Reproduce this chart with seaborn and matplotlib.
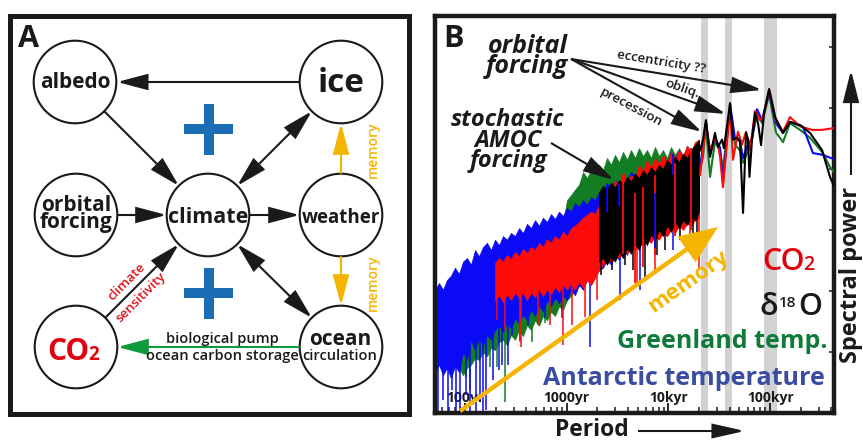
import numpy as np
import pandas as pd
import matplotlib
matplotlib.use("Agg")
import matplotlib.pyplot as plt
import seaborn as sns
from matplotlib.patches import Circle, Rectangle, FancyArrowPatch

# ---------------- Panel B data ----------------
# period in years, spectral power in log10 units (arbitrary offset)
# periods at which the edges of the dense stochastic bands were read
noise_period = [50.7, 55.5, 60.8, 66.5, 72.8, 79.7, 87.3, 95.6, 104.6, 114.6,
                125.4, 137.3, 150.3, 164.6, 180.2, 197.3, 216.0, 236.4, 258.9, 283.4,
                310.3, 339.7, 371.9, 407.1, 445.7, 488.0, 534.2, 584.9, 640.3, 701.0,
                767.5, 840.2, 919.9, 1007, 1103, 1207, 1321, 1447, 1584, 1734,
                1898, 2078, 2275, 2491, 2727, 2985, 3268, 3578, 3917, 4288,
                4695, 5140, 5627, 6160, 6744, 7384, 8083, 8850, 9688, 10610,
                11610, 12710, 13920, 15240, 16680, 18260, 19990]

blue_noise_top = [2.02, 2.13, 2.02, 2.18, 2.25, 2.38, 2.28, 2.48, 2.54, 2.43,
                  2.67, 2.57, 2.72, 2.79, 2.67, 2.84, 2.75, 2.90, 2.84, 2.95,
                  2.90, 3.03, 2.95, 3.10, 3.03, 3.16, 3.07, 3.20, 3.13, 3.26,
                  3.18, 3.30, 3.23, 3.36, 3.30, 3.44, 3.38, 3.49, 3.41, 3.54,
                  3.49, 3.62, 3.66, 3.77, 3.69, 3.82, 3.75, 3.89, 3.82, 3.95,
                  3.89, 3.98, 3.93, 4.07, 3.98, 4.10, 4.03, 4.18, 4.11, 4.28,
                  4.15, 4.31, 4.21, 4.34, 4.26, 4.39, 4.43]
blue_noise_bot = [0.67, 0.79, 0.62, 0.74, 0.57, 0.77, 0.67, 1.00, 0.87, 1.20,
                  1.03, 1.23, 1.11, 1.28, 1.20, 1.36, 1.44, 1.33, 1.49, 1.39,
                  1.56, 1.46, 1.61, 1.52, 1.69, 1.59, 1.77, 1.66, 1.85, 1.75,
                  1.89, 1.80, 1.92, 1.85, 2.02, 1.93, 2.10, 2.02, 2.18, 2.10,
                  2.26, 2.34, 2.38, 2.51, 2.43, 2.59, 2.51, 2.67, 2.59, 2.75,
                  2.67, 2.84, 2.75, 2.87, 2.80, 2.92, 2.87, 2.97, 2.90, 3.03,
                  2.97, 3.08, 3.02, 3.13, 3.07, 3.20, 3.25]
green_noise_top = [1.77, 1.82, 1.85, 1.90, 1.95, 2.02, 2.07, 2.13, 2.18, 2.23,
                   2.28, 2.33, 2.38, 2.43, 2.48, 2.52, 2.57, 2.62, 2.67, 2.70,
                   2.74, 2.77, 2.80, 2.84, 2.87, 2.90, 2.93, 2.97, 3.00, 3.03,
                   3.07, 3.10, 3.13, 3.49, 3.57, 3.66, 3.74, 3.95, 3.85, 3.98,
                   3.90, 4.07, 3.98, 4.18, 4.07, 4.23, 4.11, 4.28, 4.15, 4.31,
                   4.18, 4.34, 4.21, 4.31, 4.18, 4.36, 4.21, 4.31, 4.18, 4.36,
                   4.23, 4.34, 4.21, 4.38, 4.28, 4.34, 4.39]
green_noise_bot = [0.74, 0.84, 0.70, 0.80, 0.67, 0.84, 0.74, 0.62, 0.74, 0.79,
                   0.90, 0.87, 1.00, 0.93, 1.07, 1.03, 1.16, 1.20, 1.11, 1.28,
                   1.20, 1.36, 1.26, 1.44, 1.36, 1.52, 1.43, 1.59, 1.52, 1.66,
                   1.59, 1.75, 1.69, 1.85, 1.92, 2.02, 2.08, 2.15, 2.25, 2.34,
                   2.43, 2.48, 2.54, 2.59, 2.64, 2.67, 2.72, 2.75, 2.80, 2.84,
                   2.87, 2.90, 2.95, 2.97, 3.00, 3.03, 3.07, 3.08, 3.11, 3.13,
                   3.16, 3.20, 3.21, 3.25, 3.28, 3.30, 3.33]
red_noise_top = [2.46, 2.54, 2.48, 2.59, 2.52, 2.64, 2.57, 2.69, 2.62, 2.72,
                 2.67, 2.79, 2.72, 2.85, 2.79, 2.90, 2.84, 2.97, 2.90, 3.03,
                 3.07, 3.13, 3.20, 3.25, 3.30, 3.26, 3.41, 3.52, 3.66, 3.57,
                 3.82, 3.69, 3.95, 3.79, 3.90, 3.85, 4.07, 3.95, 4.15, 4.02,
                 4.18, 4.07, 4.23, 4.11, 4.28, 4.15, 4.31, 4.21, 4.38, 4.28,
                 4.44, 4.48]
red_noise_bot = [1.85, 1.93, 1.82, 1.95, 1.85, 1.98, 1.89, 1.97, 1.85, 1.98,
                 1.90, 2.02, 1.92, 2.02, 1.95, 2.07, 1.98, 2.10, 2.02, 2.13,
                 2.02, 2.15, 2.05, 2.18, 2.10, 2.21, 2.34, 2.43, 2.51, 2.48,
                 2.59, 2.54, 2.67, 2.61, 2.74, 2.67, 2.79, 2.74, 2.84, 2.79,
                 2.90, 2.84, 2.95, 2.90, 3.00, 2.95, 3.07, 3.00, 3.10, 3.07,
                 3.16, 3.20]
black_noise_top = [3.62, 3.72, 3.66, 3.77, 3.70, 3.82, 3.75, 3.87, 3.80, 3.92,
                   3.85, 3.98, 3.90, 4.03, 3.95, 4.07, 4.00, 4.15, 4.07, 4.20,
                   4.11, 4.25, 4.18, 4.31, 4.39, 4.48]
black_noise_bot = [2.48, 2.54, 2.43, 2.57, 2.48, 2.64, 2.54, 2.70, 2.61, 2.77,
                   2.67, 2.87, 2.75, 2.93, 2.84, 3.00, 2.90, 3.07, 2.97, 3.13,
                   3.03, 3.16, 3.08, 3.23, 3.16, 3.30]
red_start, black_start = 15, 41   # first index of noise_period covered by CO2 and d18O

# single deep dips (period, lowest power)
blue_spike_period = [54.3, 60.8, 68.0, 74.5, 81.6, 89.3, 102, 112, 128, 140, 150, 161, 188, 216,
                     231, 265, 290, 416, 612, 899, 1694, 3342, 5260, 7384, 11090]
blue_spike_low = [-0.2, 0.21, -0.2, 0.38, -0.2, -0.2, 0.30, -0.2, -0.2, 0.21, -0.2, 0.05, 0.54, 0.70,
                  0.79, 0.79, 1.28, 1.44, 1.56, 1.56, 1.08, 1.85, 2.02, 2.59, 2.67]
green_spike_period = [102, 112, 176, 207, 247, 296, 348, 456, 612, 2123, 11090]
green_spike_low = [0.59, 0.38, 0.75, 0.75, 0.18, 1.25, 1.20, 1.16, 1.48, 2.48, 3.08]
red_spike_period = [207, 247, 348, 356, 522, 685, 921, 1127, 1514, 1986, 4909, 7384, 16290, 19990]
red_spike_low = [1.52, 1.36, 1.16, 1.08, 1.44, 1.44, 1.11, 1.44, 1.57, 1.85, 2.13, 2.34, 2.67, 2.34]
black_spike_period = [2174, 2786, 3741, 4487, 5897, 7720, 9268, 13000, 17460, 19100]
black_spike_low = [2.26, 2.34, 2.43, 2.34, 2.23, 2.59, 2.67, 2.84, 2.54, 2.62]
# streaks of one record seen on top of the d18O band (period, low, high)
red_over_period = [3578, 4695, 5627, 7384, 11610, 16680]
red_over_low = [2.60, 2.13, 2.40, 2.60, 2.90, 3.00]
red_over_high = [3.90, 3.60, 3.70, 3.90, 4.10, 4.35]
blue_over_period = [2491, 3268, 7384, 11090]
blue_over_low = [3.30, 3.40, 2.70, 3.90]
blue_over_high = [3.70, 3.75, 3.60, 4.25]

# orbital band: resolved spectral estimates drawn as lines
black_period = [20460, 21900, 23400, 25700, 28700, 30700, 33700, 35200, 40400, 43200, 47300, 50600,
                54200, 58000, 60700, 62700, 66400, 71100, 76100, 81500, 87300, 97800, 112000,
                134000, 157000, 197000, 247000, 324000, 388000, 425000]
black_power = [4.30, 4.48, 4.80, 4.20, 4.59, 4.36, 4.48, 4.34, 5.08, 4.48, 4.51, 4.46,
               3.28, 4.59, 4.48, 3.87, 4.48, 4.92, 4.75, 4.39, 4.92, 5.31, 4.85,
               4.59, 4.77, 4.72, 4.59, 4.31, 3.87, 3.72]
red_period = [20460, 21900, 23400, 25700, 28700, 30700, 32200, 34400, 40400, 43200, 48300, 53000,
              58000, 63500, 71100, 79600, 85300, 97800, 114000, 134000, 157000, 197000, 258000,
              324000, 425000]
red_power = [3.90, 4.30, 4.75, 4.30, 4.50, 4.40, 4.20, 3.70, 5.00, 4.15, 4.61, 4.40,
             4.61, 4.31, 4.95, 4.80, 4.85, 5.30, 4.80, 4.61, 4.85, 4.70, 4.64, 4.64, 4.67]
blue_period = [20460, 21900, 23400, 25700, 28700, 32200, 34400, 40400, 45200, 50600, 54200, 60700,
               66400, 74300, 83400, 97800, 114000, 134000, 157000, 210000, 264000, 331000, 425000]
blue_power = [4.00, 4.40, 4.78, 4.25, 4.50, 4.35, 3.77, 5.06, 4.50, 4.45, 4.18, 4.40,
              4.50, 4.98, 4.80, 5.26, 4.75, 4.59, 4.77, 4.69, 4.26, 4.23, 4.16]
green_period = [20460, 21900, 23400, 25700, 28700, 32200, 34400, 40400, 45200, 50600, 54200, 60700,
                66400, 74300, 83400, 97800, 114000, 134000, 157000, 197000, 247000, 331000, 388000, 425000]
green_power = [4.00, 4.20, 4.70, 3.87, 4.45, 4.30, 4.00, 4.98, 4.40, 4.30, 4.10, 4.30,
               4.50, 4.90, 4.75, 5.22, 4.60, 4.44, 4.75, 4.64, 4.51, 4.26, 4.03, 3.95]

orbital_bands = [(20900, 24300), (36200, 42400), (87000, 117000)]
xtick_values = [100, 1000, 10000, 100000]
xtick_labels = ["100yr", "1000yr", "10kyr", "100kyr"]
series_names = ["Greenland temp.", "Antarctic temperature", "CO2", "d18O"]

# ---------------- style ----------------
sns.set_theme(style="white")
plt.rcParams["font.family"] = ["Open Sans", "DejaVu Sans"]
INK = "#1a1a1a"
C_BLUE, C_GREEN, C_RED, C_BLACK = "#0a0af5", "#127d22", "#ff0a0a", "#000000"
C_ORANGE = "#f5b400"
palette = {"Greenland temp.": C_GREEN, "Antarctic temperature": C_BLUE, "CO2": C_RED, "d18O": C_BLACK}

W, H = 863, 441
fig = plt.figure(figsize=(W / 100, H / 100), dpi=100)

# ---------------- Panel B axes ----------------
bl, br, bt, bb = 435, 834, 15.8, 413
ax = fig.add_axes([bl / W, (H - bb) / H, (br - bl) / W, (bb - bt) / H], zorder=2)
ax.set_xscale("log")
ax.set_xlim(50.7, 425000)
ax.set_ylim(0, 6.51)

for lo, hi in orbital_bands:
    ax.axvspan(lo, hi, color="#d2d2d2", lw=0, zorder=0)

def noisy(period, top, bot, color, z):
    ax.fill_between(period, bot, top, color=color, lw=0.5, zorder=z)

def spikes(period, low, ref_p, ref_bot, color, z):
    high = np.interp(np.log10(period), np.log10(ref_p), ref_bot) + 0.25
    ax.vlines(period, low, high, color=color, lw=1.1, zorder=z)

red_p = noise_period[red_start:]
black_p = noise_period[black_start:]
noisy(noise_period, green_noise_top, green_noise_bot, C_GREEN, 1)
spikes(green_spike_period, green_spike_low, noise_period, green_noise_bot, C_GREEN, 1)
noisy(noise_period, blue_noise_top, blue_noise_bot, C_BLUE, 2)
spikes(blue_spike_period, blue_spike_low, noise_period, blue_noise_bot, C_BLUE, 2)
noisy(red_p, red_noise_top, red_noise_bot, C_RED, 3)
spikes(red_spike_period, red_spike_low, red_p, red_noise_bot, C_RED, 3)
noisy(black_p, black_noise_top, black_noise_bot, C_BLACK, 4)
spikes(black_spike_period, black_spike_low, black_p, black_noise_bot, C_BLACK, 4)
ax.vlines(red_over_period, red_over_low, red_over_high, color=C_RED, lw=1.3, zorder=5)
ax.vlines(blue_over_period, blue_over_low, blue_over_high, color=C_BLUE, lw=1.3, zorder=5)

frames = []
for name, p, v in [("Greenland temp.", green_period, green_power),
                   ("Antarctic temperature", blue_period, blue_power),
                   ("CO2", red_period, red_power),
                   ("d18O", black_period, black_power)]:
    frames.append(pd.DataFrame({"period": p, "power": v, "series": name}))
df = pd.concat(frames, ignore_index=True)
sns.lineplot(data=df, x="period", y="power", hue="series", hue_order=series_names,
             palette=palette, estimator=None, sort=True, lw=1.5, legend=False, ax=ax, zorder=6)

ax.set_xlabel("")
ax.set_ylabel("")
ax.set_xticks(xtick_values)
ax.set_xticklabels(xtick_labels, fontweight="bold", fontsize=10, color=INK)
ax.tick_params(axis="x", which="major", direction="in", bottom=True, top=False, length=7,
               width=1.3, color=INK, pad=-16)
ax.tick_params(axis="x", which="minor", direction="in", bottom=True, top=False, length=4.5,
               width=1.1, color=INK)
for lab in ax.get_xticklabels():
    lab.set_zorder(7)
ax.set_yticks([1, 2, 3, 4, 5, 6])
ax.tick_params(axis="y", which="both", left=False, right=True, direction="in", length=3.5,
               width=1.1, color=INK, labelleft=False, labelright=False)
for s in ax.spines.values():
    s.set_linewidth(3.2)
    s.set_color(INK)
    s.set_visible(True)

# ---------------- overlay (pixel coordinates) ----------------
ov = fig.add_axes([0, 0, 1, 1], zorder=3)
ov.set_xlim(0, W)
ov.set_ylim(H, 0)
ov.axis("off")
ov.patch.set_alpha(0)

def T(x, y, s, size, color=INK, weight="bold", ha="center", va="baseline", rot=0, style="normal", ls=1.0):
    ov.text(x, y, s, fontsize=size, color=color, fontweight=weight, ha=ha, va=va,
            rotation=rot, fontstyle=style, linespacing=ls, multialignment=ha if ha != "center" else "center")

def A(p0, p1, color=INK, lw=1.5, style="-|>", hl=19, hw=5):
    ov.add_patch(FancyArrowPatch(p0, p1, arrowstyle=f"{style},head_length={hl},head_width={hw}",
                                 mutation_scale=1, lw=lw, color=color, shrinkA=0, shrinkB=0,
                                 joinstyle="miter", capstyle="butt"))

# Panel A frame
ov.add_patch(Rectangle((10, 15.8), 399, 397.9, fill=False, lw=3.6, ec=INK))
T(18, 47, "A", 22, ha="left")

nodes = {"albedo": (75, 82), "ice": (341, 82), "orbital": (76, 215), "climate": (208, 215),
         "weather": (341, 215), "co2": (76, 347), "ocean": (341, 347)}
R = 41.3
for c in nodes.values():
    ov.add_patch(Circle(c, R, fill=False, lw=1.5, ec=INK))

T(75, 88, "albedo", 15)
T(341, 92, "ice", 24)
T(76, 228, "orbital\nforcing", 15, ls=0.78)
T(208, 223, "climate", 15.5)
T(341, 223, "weather", 13.5)
T(47, 360, "CO", 21.5, color="#e0000f", ha="left")
T(88, 360, "2", 13.5, color="#e0000f", ha="left")
T(340, 345, "ocean", 15)
T(340, 360, "circulation", 10.5, weight="semibold")
T(222, 343, "biological pump", 10.5, weight="semibold")
T(222, 360, "ocean carbon storage", 10.5, weight="semibold")
T(127, 282, "climate", 9.5, color="#e0101a", weight="semibold", va="center", rot=45)
T(141, 297, "sensitivity", 9.5, color="#e0101a", weight="semibold", va="center", rot=45)
T(373, 150, "memory", 10, color=C_ORANGE, weight="semibold", va="center", rot=90)
T(373, 283, "memory", 10, color=C_ORANGE, weight="semibold", va="center", rot=90)

A((300, 82), (117, 82))
A((104, 111), (179, 186))
A((117.3, 215), (166.7, 215))
A((249.3, 215), (299.7, 215))
A((237, 186), (312, 111), style="<|-|>")
A((237, 244), (312, 318), style="<|-|>")
A((105, 318), (179, 244))
A((299.7, 347), (117.3, 347), color="#109a3e")
A((341, 173.7), (341, 123.3), color=C_ORANGE)
A((341, 256.3), (341, 305.7), color=C_ORANGE)

PLUS = "#1c6eb4"
for cy in (129, 293):
    ov.plot([184, 233], [cy, cy], lw=7.2, color=PLUS, solid_capstyle="butt")
    ov.plot([209, 209], [cy - 25.5, cy + 25.5], lw=7.2, color=PLUS, solid_capstyle="butt")

# Panel B annotations
T(443, 47, "B", 22, ha="left")
T(568, 73, "orbital\nforcing", 18, ha="right", style="italic", ls=0.72)
T(508, 167, "stochastic\nAMOC\nforcing", 17, style="italic", ls=0.8)
A((571, 59), (762, 90))
A((571, 59), (726, 114))
A((571, 59), (702, 132))
A((551, 143), (614, 180))
T(661, 62, "eccentricity ??", 9.5, weight="semibold", va="center", rot=-9.5)
T(682, 89, "obliq.", 9.5, weight="semibold", va="center", rot=-19)
T(631, 107, "precession", 9.5, weight="semibold", va="center", rot=-28)

A((460, 411), (718, 227), color=C_ORANGE, lw=3.2, hl=22, hw=9)
T(688, 282, "memory", 16, color=C_ORANGE, va="center", rot=35)

T(762, 270, "CO", 22, color="#e0000f", ha="left", weight="semibold")
T(803, 270, "2", 14, color="#e0000f", ha="left", weight="semibold")
T(759, 315, "δ", 22, color=INK, ha="left", weight="semibold")
T(779, 307, "18", 11, color=INK, ha="left", weight="semibold")
T(798, 315, "O", 22, color=INK, ha="left", weight="semibold")
T(827, 348, "Greenland temp.", 18, color="#0e7b3b", ha="right")
T(825, 385, "Antarctic temperature", 18, color="#3b4da0", ha="right")

T(555, 436, "Period", 16.5, ha="left")
A((638, 431), (745, 431), hl=20, hw=4.5)
T(851, 275, "Spectral power", 17, weight="bold", va="center", rot=90)
A((851, 175), (851, 70), hl=20, hw=5)

fig.savefig("out.png", dpi=100)
